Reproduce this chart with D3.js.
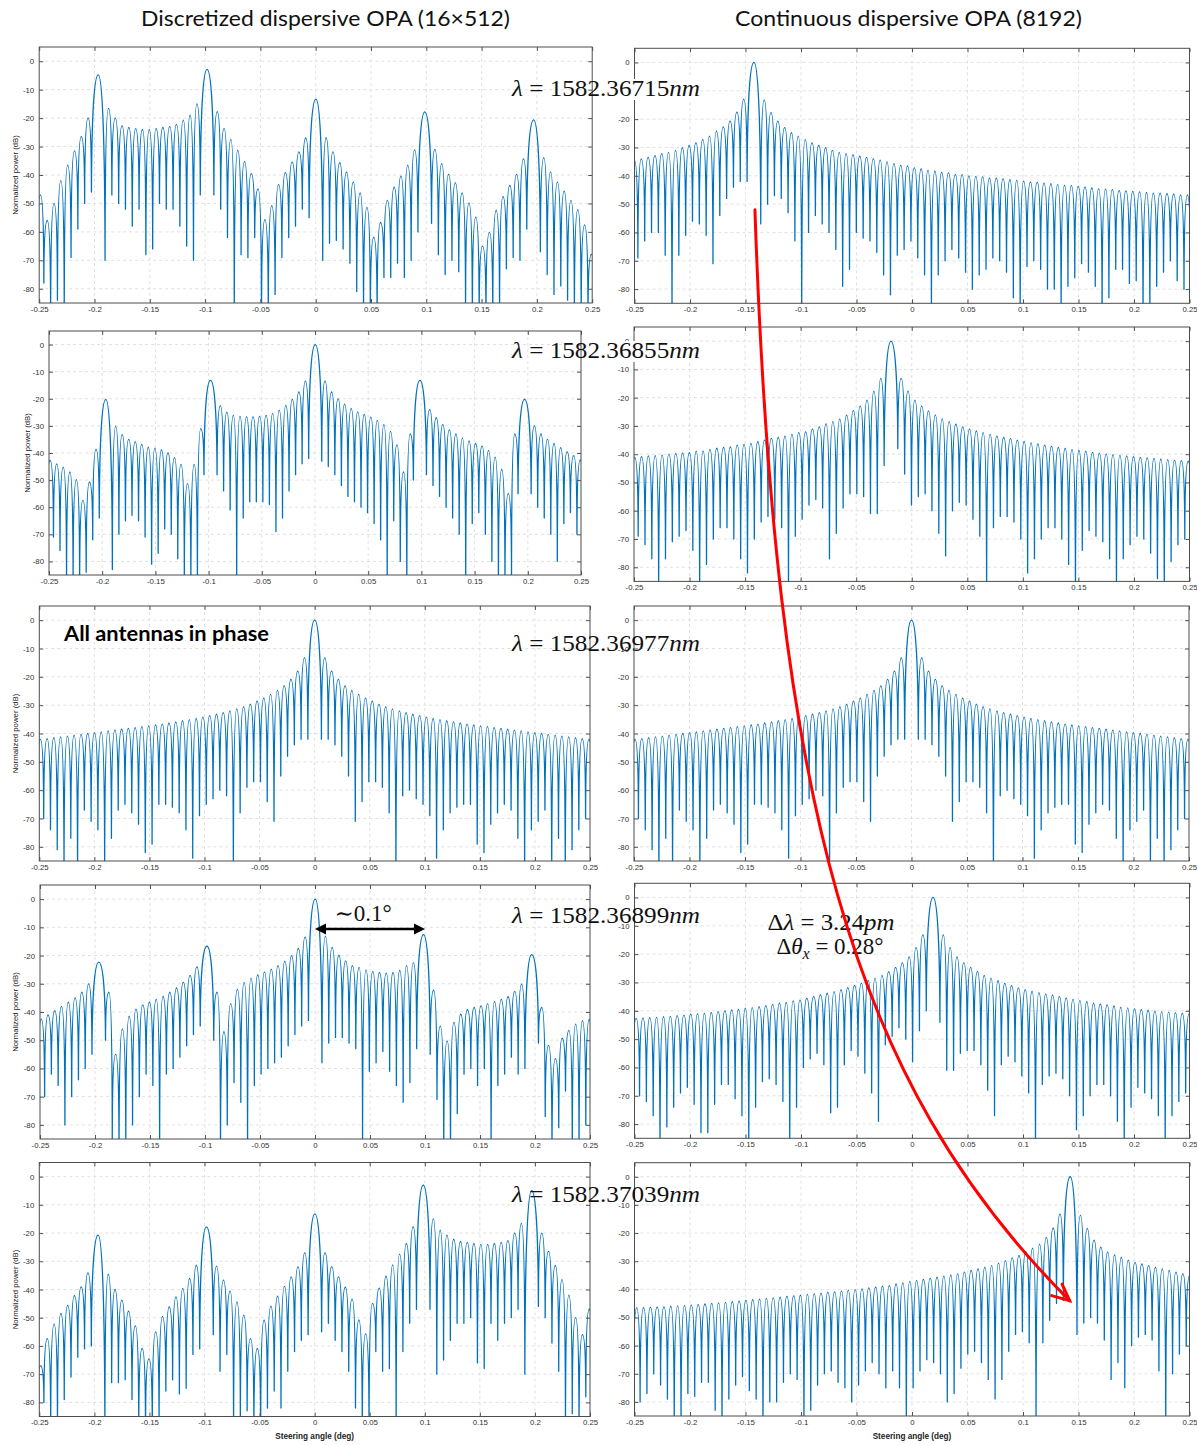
<!DOCTYPE html>
<html>
<head>
<meta charset="utf-8">
<script src="https://cdn.jsdelivr.net/npm/d3@7"></script>
<style>
  body { margin: 0; background: #fff; }
  svg { display: block; }
</style>
</head>
<body>
<svg id="fig" width="1197" height="1445"></svg>
<script>
// ---- data ----
const S = 0.00615; // spacing of the pattern nulls (deg)

const xTicks = [-0.25, -0.2, -0.15, -0.1, -0.05, 0, 0.05, 0.1, 0.15, 0.2, 0.25];
const xTickLabels = ["-0.25", "-0.2", "-0.15", "-0.1", "-0.05", "0", "0.05", "0.1", "0.15", "0.2", "0.25"];
const yTicks = [0, -10, -20, -30, -40, -50, -60, -70, -80];
const yTickLabels = ["0", "-10", "-20", "-30", "-40", "-50", "-60", "-70", "-80"];

const colTitles = ["Discretized dispersive OPA (16×512)", "Continuous dispersive OPA (8192)"];
const lambdas = ["1582.36715", "1582.36855", "1582.36977", "1582.36899", "1582.37039"];

// grating lobe centres of the 16x512 array
const gratingCenters = [-0.1966, -0.0982, 0.0002, 0.0986, 0.197];

// lobe peaks (dB, left to right, main lobes included) and null depths (dB)
const d1Lobes = [-47, -56, -50, -42, -36.5, -31.5, -26.5, -20,
  -4.8,
  -16.6, -20, -22.7, -23.3, -23.7, -24, -24, -23.7, -23.3, -23, -22.2, -20.7, -19, -15,
  -2.9,
  -17.7, -23.7, -27.5, -31.3, -35.3, -39.5, -44.9, -55.7, -50.8, -43.4, -39.2, -35.5, -31.9, -27,
  -13.3,
  -26.9, -31.9, -35.7, -39, -42.5, -46.3, -51.4, -61.9, -56.7, -48.9, -44.3, -40.4, -36.6, -31.2,
  -17.8,
  -31, -36, -39.8, -42.8, -46.3, -49.8, -54.8, -65, -60.2, -52.4, -47.5, -43.7, -39.8, -34.3,
  -20.6,
  -33.9, -39, -42.5, -45.7, -48.9, -52.2, -57.5, -67.9];
const d1Nulls = [-70, -78, -90, -84, -90, -69, -59, -50, -46,
  -70, -47, -50, -52, -58, -52, -68, -66, -50, -52, -52, -58, -65, -70, -47,
  -47, -52, -62, -90, -68, -69, -62, -90, -90, -82, -69, -62, -58, -52, -55,
  -70, -64, -63, -66, -71, -81, -90, -90, -90, -76, -76, -71, -76, -70, -60,
  -57, -68, -75, -70, -74, -88, -90, -90, -90, -90, -90, -73, -69, -70, -59,
  -67, -75, -82, -79, -84, -90, -90, -90, -90];

const d2Lobes = [-42.7, -44, -45.2, -47, -49.8, -57.5, -50.7, -38.6,
  -20.2,
  -30.2, -33.2, -35, -35.9, -36.8, -37.8, -38.2, -38.8, -39.9, -41.7, -44.2, -51.3, -44.2, -31,
  -13.2,
  -22.6, -24.9, -26.1, -26.5, -26.7, -26.7, -26.5, -26.1, -25.5, -24.2, -22.4, -20.2, -17.5, -13.5,
  0,
  -13.5, -17.5, -20, -22, -23.6, -24.8, -25.8, -26.8, -28, -29.5, -32, -37, -47, -33,
  -13.2,
  -24, -27, -29.5, -31.5, -33, -34.5, -35.5, -36.5, -37.5, -39, -41.5, -46, -55, -33,
  -20.2,
  -30, -33, -35, -36.5, -38, -39.5, -41, -42.5];
const d2Nulls = [-60, -71, -76, -88, -88, -88, -84, -72, -64,
  -83, -70, -65, -63, -65, -71, -81, -77, -68, -70, -79, -85, -90, -88, -48,
  -48, -54, -61, -88, -64, -58, -58, -58, -59, -69, -64, -54, -48, -44, -42,
  -43, -45, -48, -52, -56, -58, -60, -62, -66, -72, -88, -65, -80, -90, -50,
  -48, -52, -56, -60, -64, -70, -88, -66, -62, -70, -80, -90, -88, -85, -55,
  -55, -60, -64, -70, -80, -66, -62, -70, -72];

const inPhaseLobes = [-42.1, -41.8, -41.5, -41.2, -40.9, -40.6, -40.3, -40, -39.7, -39.4,
  -39.1, -38.8, -38.5, -38.2, -37.9, -37.6, -37.3, -37, -36.7, -36.3,
  -35.9, -35.5, -35.1, -34.7, -34.2, -33.7, -33.2, -32.6, -32, -31.3,
  -30.5, -29.6, -28.6, -27.5, -26.2, -24.8, -23.2, -20.9, -18, -13.3,
  0,
  -13.3, -18, -20.9, -23.2, -24.8, -26.2, -27.5, -28.6, -29.6, -30.5,
  -31.3, -32, -32.6, -33.2, -33.7, -34.2, -34.7, -35.1, -35.5, -35.9,
  -36.3, -36.7, -37, -37.3, -37.6, -37.9, -38.2, -38.5, -38.8, -39.1,
  -39.4, -39.7, -40, -40.3, -40.6, -40.9, -41.2, -41.5, -41.8, -42.1];
const inPhaseNulls = [-65, -70, -74, -81, -90, -77, -90, -67, -71, -74, -90, -77, -67, -65, -68, -72, -82, -79, -65, -65,
  -66, -68, -74, -84, -69, -65, -63, -60, -62, -90, -68, -59, -57, -57, -64, -71, -55, -48, -44, -42, -42,
  -42, -42, -44, -48, -55, -71, -64, -57, -57, -59, -68, -90, -62, -60, -63, -65, -69, -84, -74, -68,
  -66, -65, -65, -79, -82, -72, -68, -65, -67, -77, -90, -74, -71, -67, -90, -77, -90, -81, -74, -70, -65];

const d4Lobes = [-42.5, -41, -39.5, -38, -36.5, -35, -33, -30,
  -22.3,
  -33, -55, -46, -41.5, -39, -37.5, -36.5, -35.5, -34.5, -33, -31.5, -29.5, -27, -24,
  -16.7,
  -33, -47, -37, -32, -29.5, -28, -26.8, -25.8, -24.8, -23.6, -22, -20, -17.5, -13.5,
  0,
  -13.2, -17.1, -19.9, -21.9, -23.6, -24.2, -25.1, -25.6, -26, -26.2, -26, -25.2, -23.6, -22.5,
  -12.6,
  -32.3, -45, -50.2, -43.7, -40.8, -39.2, -38.4, -37.8, -37, -36.3, -35.5, -34.6, -32.7, -30.1,
  -19.7,
  -38.4, -51.8, -56.5, -49.3, -46.5, -44.3, -43.1, -42.6];
const d4Nulls = [-72, -70, -62, -66, -80, -70, -64, -60, -55,
  -50, -85, -90, -88, -80, -70, -62, -66, -88, -62, -60, -56, -52, -48, -45,
  -50, -90, -80, -65, -72, -88, -66, -62, -60, -58, -56, -52, -48, -45, -43,
  -58, -51, -49, -49, -51, -53, -88, -61, -58, -54, -61, -66, -72, -65, -53,
  -55, -71, -90, -90, -76, -62, -60, -66, -60, -88, -66, -62, -56, -62, -60,
  -51, -77, -90, -81, -68, -90, -90, -80, -80];

const d5Lobes = [-67, -57.4, -52.3, -48.5, -45.6, -42.2, -39.1, -34.1,
  -20.7,
  -34.6, -40, -43.8, -47.7, -52.9, -60.9, -64.5, -55, -49.5, -46.2, -42.6, -39.6, -36.1, -31.4,
  -17.8,
  -31.7, -36.7, -40.6, -44.4, -49.1, -57.4, -60.9, -50.9, -45.9, -42.4, -38.9, -35.5, -32, -27,
  -13.2,
  -27, -31.9, -35.5, -39.2, -43.4, -50.8, -55.7, -44.9, -39.5, -35.3, -31.3, -27.5, -23.7, -17.7,
  -3,
  -15, -19, -20.7, -22.2, -23, -23.3, -23.7, -24, -24, -23.7, -23.3, -22.7, -20, -16.6,
  -5,
  -20, -26.5, -31.5, -36.5, -42, -50, -56, -47];
const d5Nulls = [-85, -80, -90, -90, -79, -71, -64, -61, -60,
  -90, -73, -73, -72, -79, -90, -90, -90, -88, -76, -72, -77, -75, -63, -61,
  -56, -69, -63, -90, -88, -83, -90, -90, -82, -76, -82, -69, -62, -58, -56,
  -55, -52, -58, -62, -69, -82, -90, -90, -62, -69, -68, -90, -62, -52, -47,
  -47, -70, -65, -58, -52, -52, -50, -66, -68, -52, -58, -52, -50, -47, -70,
  -46, -50, -59, -69, -90, -84, -90, -78, -70];

const c1Main = [-0.1424];
const c1Lobes = [-34.5, -34, -33.5, -32.9, -32.2, -31.7, -31, -30.1, -29.3, -28.4, -27.2, -26, -24.2, -22.7, -20.7, -17.5, -13,
  0,
  -13.2, -17.7, -20.7, -23, -24.8, -26, -27.2, -28.4, -29.3, -30.1,
  -31, -31.7, -32.2, -32.5, -33.1, -33.5, -34, -34.5, -35.1, -35.7,
  -36.3, -36.6, -37.2, -37.6, -38.1, -38.4, -38.8, -39, -39.6, -39.6,
  -40, -40.2, -40.4, -40.8, -40.8, -41.1, -41.4, -41.6, -41.9, -42.2,
  -42.3, -42.6, -42.8, -43.1, -43.4, -43.5, -43.7, -44, -44.3, -44.6,
  -44.7, -44.9, -45.2, -45.3, -45.5, -45.7, -45.9, -46.1, -46.1, -46.3,
  -46.5, -46.7, -46.7];
const c1Nulls = [-65, -69, -63, -60, -60, -68, -90, -68, -61, -56, -57, -61, -71, -54, -48, -44, -42, -42,
  -57, -50, -47, -48, -53, -63, -90, -60, -54, -57, -60, -66, -79, -73, -60, -62, -63, -67, -75, -82,
  -68, -66, -63, -69, -75, -90, -75, -70, -66, -69, -74, -80, -75, -73, -69, -70, -74, -83, -90, -72,
  -70, -73, -80, -80, -90, -79, -76, -71, -74, -79, -90, -83, -73, -73, -78, -77, -90, -90, -79, -74,
  -70, -77, -80, -80];

const c2Main = [-0.0187];
const c2Lobes = [-41.1, -40.9, -40.6, -40.5, -40.3, -40, -39.7, -39.5, -39.4, -38.9,
  -38.8, -38.3, -37.9, -37.6, -37.4, -36.8, -36.5, -36.2, -35.6, -35,
  -34.4, -34.1, -33.6, -33, -32.4, -32.1, -31.1, -30.3, -29.3, -28.5,
  -27.6, -26.2, -24.6, -23, -20.9, -17.7, -13.2,
  0,
  -13.2, -17.7, -20.9, -23, -24.7, -26.2, -27.5, -28.5, -29.4, -30.3,
  -31.1, -31.8, -32.4, -33, -33.6, -34.1, -34.5, -35, -35.5, -36,
  -36.4, -36.8, -37.2, -37.6, -37.9, -38.3, -38.6, -38.9, -39.3, -39.6,
  -39.9, -40.1, -40.4, -40.6, -40.9, -41.1, -41.3, -41.5, -41.7, -41.9,
  -42.1, -42.3, -42.5];
const c2Nulls = [-68, -69, -72, -77, -90, -77, -71, -69, -67, -74, -90, -79, -70, -66, -66, -70, -77, -82, -70, -64,
  -62, -63, -66, -90, -69, -63, -58, -56, -59, -77, -68, -59, -54, -54, -55, -61, -61, -44,
  -38, -47, -58, -55, -54, -60, -68, -76, -60, -57, -58, -63, -69, -90, -66, -62, -62, -64, -70, -82,
  -77, -70, -66, -66, -70, -79, -90, -74, -67, -69, -71, -77, -90, -77, -72, -69, -70, -75, -84, -90,
  -78, -72, -70, -74];

const c4Main = [0.019];
const c4Lobes = [-42.7, -42.6, -42.4, -42.3, -42.1, -42, -41.7, -41.5, -41.2, -41.1,
  -40.9, -40.6, -40.3, -40, -39.7, -39.5, -39.1, -38.9, -38.5, -38.2,
  -37.7, -37.3, -37, -36.5, -36.2, -35.6, -35, -34.4, -33.8, -33.2,
  -32.5, -31.8, -31, -30.2, -29.3, -28.5, -27.5, -26.2, -24.7, -23,
  -20.9, -17.7, -13.2,
  0,
  -13.2, -17.7, -20.9, -23, -24.7, -26.1, -27.5, -28.5, -29.4, -30.3,
  -31.1, -31.9, -32.5, -33.1, -33.6, -34.1, -34.5, -35, -35.5, -36,
  -36.4, -36.8, -37.3, -37.6, -37.9, -38.3, -38.7, -39, -39.3, -39.6,
  -39.8, -40.1, -40.3, -40.5, -40.7, -40.9, -41.1];
const c4Nulls = [-70, -70, -72, -77, -90, -81, -74, -69, -67, -73, -83, -83, -73, -66, -66, -71, -77, -90, -74, -65,
  -64, -66, -72, -90, -74, -60, -57, -55, -59, -76, -74, -59, -54, -56, -62, -69, -79, -52, -49, -46,
  -50, -58, -47, -40,
  -44, -61, -61, -55, -54, -54, -59, -68, -77, -59, -56, -58, -63, -69, -90, -66, -63, -62, -64, -70,
  -82, -77, -70, -66, -66, -70, -79, -90, -74, -67, -69, -71, -77, -90, -77, -72, -69, -68];

const c5Main = [0.1425];
const c5Lobes = [-46.6, -46.5, -46.4, -46.3, -46.2, -46, -45.9, -45.8, -45.6, -45.4,
  -45.2, -45, -44.8, -44.6, -44.4, -44.2, -43.9, -43.7, -43.5, -43.2,
  -43, -42.8, -42.5, -42.3, -42.1, -41.8, -41.6, -41.4, -41.1, -40.9,
  -40.6, -40.3, -40.1, -39.8, -39.5, -39.2, -38.9, -38.7, -38.1, -37.7,
  -37.2, -36.9, -36.5, -36.1, -35.7, -35.3, -34.9, -34.5, -33.9, -33.3,
  -32.7, -32.2, -31.6, -30.7, -29.8, -28.8, -28, -26.6, -25.4, -23.9,
  -21.5, -18.2, -13.2,
  0,
  -13.6, -18.3, -22.5, -25, -26.8, -27.8, -28.6, -29.6, -30.4, -31,
  -31.6, -32.2, -32.7, -33.3, -33.9, -34.5, -35.1];
const c5Nulls = [-80, -80, -77, -70, -74, -79, -90, -90, -77, -78, -73, -73, -83, -90, -79, -74, -71, -76, -79, -90,
  -80, -80, -73, -70, -72, -90, -83, -74, -70, -69, -73, -75, -80, -74, -69, -66, -70, -75,
  -69, -75, -90, -75, -69, -65, -66, -70, -80, -77, -68, -63, -62, -66, -72, -79, -72, -62, -56, -55,
  -59, -90, -59, -51, -45, -44,
  -56, -52, -50, -52, -58, -72, -66, -75, -60, -57, -56, -58, -69, -90, -70, -63, -60, -62];

// ---- layout ----
const panels = [
  { main: gratingCenters, lobes: d1Lobes, nulls: d1Nulls, box: [39.2, 592.2, 47, 303], ylab: 15 },
  { main: gratingCenters, lobes: d2Lobes, nulls: d2Nulls, box: [49, 581, 331, 575], ylab: 27 },
  { main: [0], lobes: inPhaseLobes, nulls: inPhaseNulls, box: [39.3, 590, 606, 861], ylab: 15 },
  { main: gratingCenters, lobes: d4Lobes, nulls: d4Nulls, box: [40, 590, 885, 1139], ylab: 15 },
  { main: gratingCenters, lobes: d5Lobes, nulls: d5Nulls, box: [39.3, 590, 1162.5, 1416.5], ylab: 15 },
  { main: c1Main, lobes: c1Lobes, nulls: c1Nulls, box: [634.5, 1189.5, 48.3, 303.3] },
  { main: c2Main, lobes: c2Lobes, nulls: c2Nulls, box: [634, 1189.5, 327, 581.4] },
  { main: [0], lobes: inPhaseLobes, nulls: inPhaseNulls, box: [634, 1189, 606, 861] },
  { main: c4Main, lobes: c4Lobes, nulls: c4Nulls, box: [634.5, 1189.5, 883.3, 1138.3] },
  { main: c5Main, lobes: c5Lobes, nulls: c5Nulls, box: [634.5, 1189.5, 1162.7, 1416] }
];

const blue = "#0072bd";
const tickFont = "'Liberation Sans', Arial, sans-serif";
const svg = d3.select("#fig");

// null angles on the lobe grid, skipping the grid points under main lobes
function nullAngles(main, n) {
  const c0 = main[0];
  const jmin = Math.ceil((-0.25 - c0) / S - 1e-9) - 1;
  const out = [];
  for (let j = jmin; out.length < n; j++) {
    const a = c0 + j * S;
    if (main.some(m => Math.abs(a - m) < S / 2)) continue;
    out.push(a);
  }
  return out;
}

// each lobe: steep flank out of the null, rounded top
function lobePath(x, y, angles, nulls, lobes) {
  const p = d3.path();
  p.moveTo(x(angles[0]), y(nulls[0]));
  lobes.forEach(function (db, i) {
    const xa = x(angles[i]), xb = x(angles[i + 1]);
    const ya = y(nulls[i]), yb = y(nulls[i + 1]);
    const xp = (xa + xb) / 2, yp = y(db), h = (xb - xa) / 2;
    p.bezierCurveTo(xa + 0.03 * h, yp + 0.35 * (ya - yp), xp - 0.6 * h, yp, xp, yp);
    p.bezierCurveTo(xp + 0.6 * h, yp, xb - 0.03 * h, yp + 0.35 * (yb - yp), xb, yb);
  });
  return p.toString();
}

const scales = [];
panels.forEach(function (p, i) {
  const [x0, x1, y0, y1] = p.box;
  const x = d3.scaleLinear().domain([-0.25, 0.25]).range([x0, x1]);
  const y = d3.scaleLinear().domain([-85, 5]).range([y1, y0]);
  scales.push({ x: x, y: y });
  const g = svg.append("g");

  if (p.lobes.length !== p.nulls.length - 1) console.warn("panel " + i + " count mismatch");

  // grid
  g.append("g").selectAll("line").data(xTicks.slice(1, -1)).join("line")
    .attr("x1", d => x(d)).attr("x2", d => x(d)).attr("y1", y0).attr("y2", y1)
    .attr("stroke", "#d9d9d9").attr("stroke-width", 0.8).attr("stroke-dasharray", "3,3");
  g.append("g").selectAll("line").data(yTicks).join("line")
    .attr("y1", d => y(d)).attr("y2", d => y(d)).attr("x1", x0).attr("x2", x1)
    .attr("stroke", "#d9d9d9").attr("stroke-width", 0.8).attr("stroke-dasharray", "3,3");

  // curve
  svg.append("clipPath").attr("id", "clip" + i)
    .append("rect").attr("x", x0).attr("y", y0).attr("width", x1 - x0).attr("height", y1 - y0);
  const angles = nullAngles(p.main, p.nulls.length);
  g.append("path")
    .attr("clip-path", "url(#clip" + i + ")")
    .attr("d", lobePath(x, y, angles, p.nulls, p.lobes))
    .attr("fill", "none")
    .attr("stroke", blue)
    .attr("stroke-width", 1.3)
    .attr("stroke-linejoin", "round");

  // axes with inward ticks on all four sides
  const styleAxis = function (sel) {
    sel.select(".domain").remove();
    sel.selectAll(".tick line").attr("stroke", "#555");
    sel.selectAll(".tick text").attr("fill", "#333").attr("font-size", 7.8).attr("font-family", tickFont);
  };
  g.append("g").attr("transform", "translate(0," + y1 + ")")
    .call(d3.axisBottom(x).tickValues(xTicks).tickFormat((d, k) => xTickLabels[k])
      .tickSizeInner(-4).tickSizeOuter(0).tickPadding(3)).call(styleAxis);
  g.append("g").attr("transform", "translate(0," + y0 + ")")
    .call(d3.axisTop(x).tickValues(xTicks).tickFormat("").tickSizeInner(-4).tickSizeOuter(0)).call(styleAxis);
  g.append("g").attr("transform", "translate(" + x0 + ",0)")
    .call(d3.axisLeft(y).tickValues(yTicks).tickFormat((d, k) => yTickLabels[k])
      .tickSizeInner(-4).tickSizeOuter(0).tickPadding(5)).call(styleAxis);
  g.append("g").attr("transform", "translate(" + x1 + ",0)")
    .call(d3.axisRight(y).tickValues(yTicks).tickFormat("").tickSizeInner(-4).tickSizeOuter(0)).call(styleAxis);

  g.append("rect").attr("x", x0).attr("y", y0).attr("width", x1 - x0).attr("height", y1 - y0)
    .attr("fill", "none").attr("stroke", "#4d4d4d").attr("stroke-width", 1);

  if (p.ylab) {
    g.append("text")
      .attr("transform", "translate(" + p.ylab + "," + ((y0 + y1) / 2) + ") rotate(-90)")
      .attr("text-anchor", "middle").attr("dy", "0.35em")
      .attr("font-family", tickFont).attr("font-size", 7.8).attr("fill", "#222")
      .text("Normalized power (dB)");
  }
});

// x labels under the bottom row
[[0, 4], [1, 9]].forEach(function (d) {
  const s = scales[d[1]];
  svg.append("text").attr("x", s.x(0)).attr("y", 1439).attr("text-anchor", "middle")
    .attr("font-family", tickFont).attr("font-size", 8.2).attr("font-weight", "bold").attr("fill", "#222")
    .text("Steering angle (deg)");
});

// column titles
const titleFont = "Lato, 'Open Sans', sans-serif";
[[325.5, 369], [908.5, 347]].forEach(function (d, i) {
  svg.append("text").attr("x", d[0]).attr("y", 26).attr("text-anchor", "middle")
    .attr("font-family", titleFont).attr("font-size", 22).attr("fill", "#111")
    .attr("textLength", d[1]).attr("lengthAdjust", "spacingAndGlyphs")
    .text(colTitles[i]);
});

// wavelength labels (the first two sit on an opaque box, as in the figure)
const mathFont = "'Liberation Serif', 'DejaVu Serif', serif";
[[96, true], [358, true], [651, false], [923, false], [1202, false]].forEach(function (d, i) {
  if (d[1]) {
    svg.append("rect").attr("x", 600).attr("y", d[0] - 17).attr("width", 100).attr("height", 21).attr("fill", "#fff");
  }
  const t = svg.append("text").attr("x", 512).attr("y", d[0])
    .attr("font-family", mathFont).attr("font-size", 24).attr("fill", "#111")
    .attr("textLength", 188).attr("lengthAdjust", "spacingAndGlyphs");
  t.append("tspan").attr("font-style", "italic").text("λ");
  t.append("tspan").text(" = " + lambdas[i]);
  t.append("tspan").attr("font-style", "italic").text("nm");
});

svg.append("text").attr("x", 64).attr("y", 641)
  .attr("font-family", titleFont).attr("font-weight", "bold").attr("font-size", 20).attr("fill", "#000")
  .attr("textLength", 205).attr("lengthAdjust", "spacingAndGlyphs")
  .text("All antennas in phase");

// ~0.1 deg double arrow (row 4, left)
const s4 = scales[3];
const ax0 = s4.x(0), ax1 = s4.x(0.1), ay = s4.y(-10.6);
svg.append("line").attr("x1", ax0 + 9).attr("x2", ax1 - 9).attr("y1", ay).attr("y2", ay)
  .attr("stroke", "#000").attr("stroke-width", 2.5);
svg.append("path").attr("d", `M${ax0},${ay} L${ax0 + 11},${ay - 5.5} L${ax0 + 11},${ay + 5.5} Z`).attr("fill", "#000");
svg.append("path").attr("d", `M${ax1},${ay} L${ax1 - 11},${ay - 5.5} L${ax1 - 11},${ay + 5.5} Z`).attr("fill", "#000");
svg.append("text").attr("x", 363).attr("y", 921).attr("text-anchor", "middle")
  .attr("font-family", mathFont).attr("font-size", 23).attr("fill", "#111")
  .text("∼0.1°");

// delta annotation
const td1 = svg.append("text").attr("x", 831).attr("y", 930).attr("text-anchor", "middle")
  .attr("font-family", mathFont).attr("font-size", 23).attr("fill", "#111")
  .attr("textLength", 127).attr("lengthAdjust", "spacingAndGlyphs");
td1.append("tspan").text("Δ");
td1.append("tspan").attr("font-style", "italic").text("λ");
td1.append("tspan").text(" = 3.24");
td1.append("tspan").attr("font-style", "italic").text("pm");
const td2 = svg.append("text").attr("x", 830).attr("y", 954).attr("text-anchor", "middle")
  .attr("font-family", mathFont).attr("font-size", 23).attr("fill", "#111");
td2.append("tspan").text("Δ");
td2.append("tspan").attr("font-style", "italic").text("θ");
td2.append("tspan").attr("font-style", "italic").attr("font-size", 16).attr("dy", 5).text("x");
td2.append("tspan").attr("dy", -5).text(" = 0.28°");

// red arrow from the row-1 main lobe to the row-5 main lobe (right column)
const r1 = scales[5], r5 = scales[9];
const sx = r1.x(-0.1415), sy = r1.y(-52);
const ex = r5.x(0.142), ey = r5.y(-44);
svg.append("path")
  .attr("d", `M${sx},${sy} C${sx + 20},${sy + 590} ${ex - 220},${ey - 220} ${ex},${ey}`)
  .attr("fill", "none").attr("stroke", "#ff0000").attr("stroke-width", 3).attr("stroke-linecap", "round");
svg.append("path")
  .attr("d", `M${ex - 18},${ey - 5} L${ex},${ey} L${ex - 7.5},${ey - 16.5}`)
  .attr("fill", "none").attr("stroke", "#ff0000").attr("stroke-width", 3)
  .attr("stroke-linecap", "round").attr("stroke-linejoin", "miter");
</script>
</body>
</html>
